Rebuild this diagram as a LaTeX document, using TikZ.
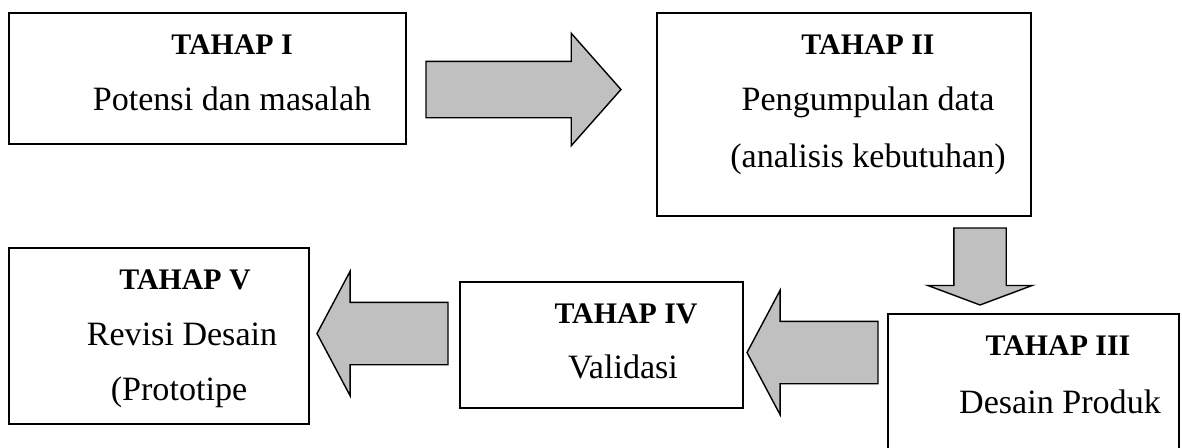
\documentclass[tikz,border=0pt]{standalone}
\usepackage{fontspec}
\setmainfont{Liberation Serif}
\usetikzlibrary{shapes.arrows}
\definecolor{flowgray}{RGB}{192,192,192}
\tikzstyle{stage} = [draw,line width=1.1pt,rectangle,anchor=north west,inner sep=0,outer sep=0]
\tikzstyle{head} = [anchor=base,inner sep=0,font=\fontsize{17}{20}\selectfont\bfseries]
\tikzstyle{body} = [anchor=base,inner sep=0,font=\fontsize{19.4}{23}\selectfont]
\tikzstyle{flow} = [draw,line width=0.8pt,fill=flowgray,single arrow,anchor=tail,inner xsep=0,outer sep=0]
\tikzstyle{sideflow} = [flow,rotate=180,minimum height=2.62cm,inner ysep=0.61cm,single arrow head extend=0.62cm,single arrow tip angle=124]

\begin{document}
\begin{tikzpicture}[x=0.02cm,y=-0.02cm]
  \useasboundingbox (0,0) rectangle (1182,447);
  % stages
  \node[stage,minimum width=7.94cm,minimum height=2.62cm] (s1) at (9,13) {};
  \node[stage,minimum width=7.48cm,minimum height=4.06cm] (s2) at (657,13) {};
  \node[stage,minimum width=5.82cm,minimum height=3.2cm] (s3) at (888,314) {};
  \node[stage,minimum width=5.66cm,minimum height=2.52cm] (s4) at (460,282) {};
  \node[stage,minimum width=6.0cm,minimum height=3.52cm] (s5) at (9,248) {};
  % texts
  \node[head] (s1h) at (232,54) {TAHAP I};
  \node[body] (s1d) at (232,110) {Potensi dan masalah};
  \node[head] (s2h) at (868,54) {TAHAP II};
  \node[body] (s2d) at (868,110) {Pengumpulan data};
  \node[body] (s2e) at (868,167) {(analisis kebutuhan)};
  \node[head] (s3h) at (1058,355) {TAHAP III};
  \node[body] (s3d) at (1060,413) {Desain Produk};
  \node[head] (s4h) at (626,323) {TAHAP IV};
  \node[body] (s4d) at (623,378) {Validasi};
  \node[head] (s5h) at (185,289) {TAHAP V};
  \node[body] (s5d) at (182,345) {Revisi Desain};
  \node[body] (s5e) at (179,400) {(Prototipe};
  % block arrows
  \node[flow,minimum height=3.9cm,inner ysep=0.55cm,single arrow head extend=0.56cm,single arrow tip angle=97] (a12) at (426,89.5) {};
  \node[flow,rotate=-90,minimum height=1.54cm,inner ysep=0.51cm,single arrow head extend=0.52cm,single arrow tip angle=139] (a23) at (980,228) {};
  \node[sideflow] (a34) at (878,352.5) {};
  \node[sideflow] (a45) at (448,333.5) {};
\end{tikzpicture}
\end{document}
